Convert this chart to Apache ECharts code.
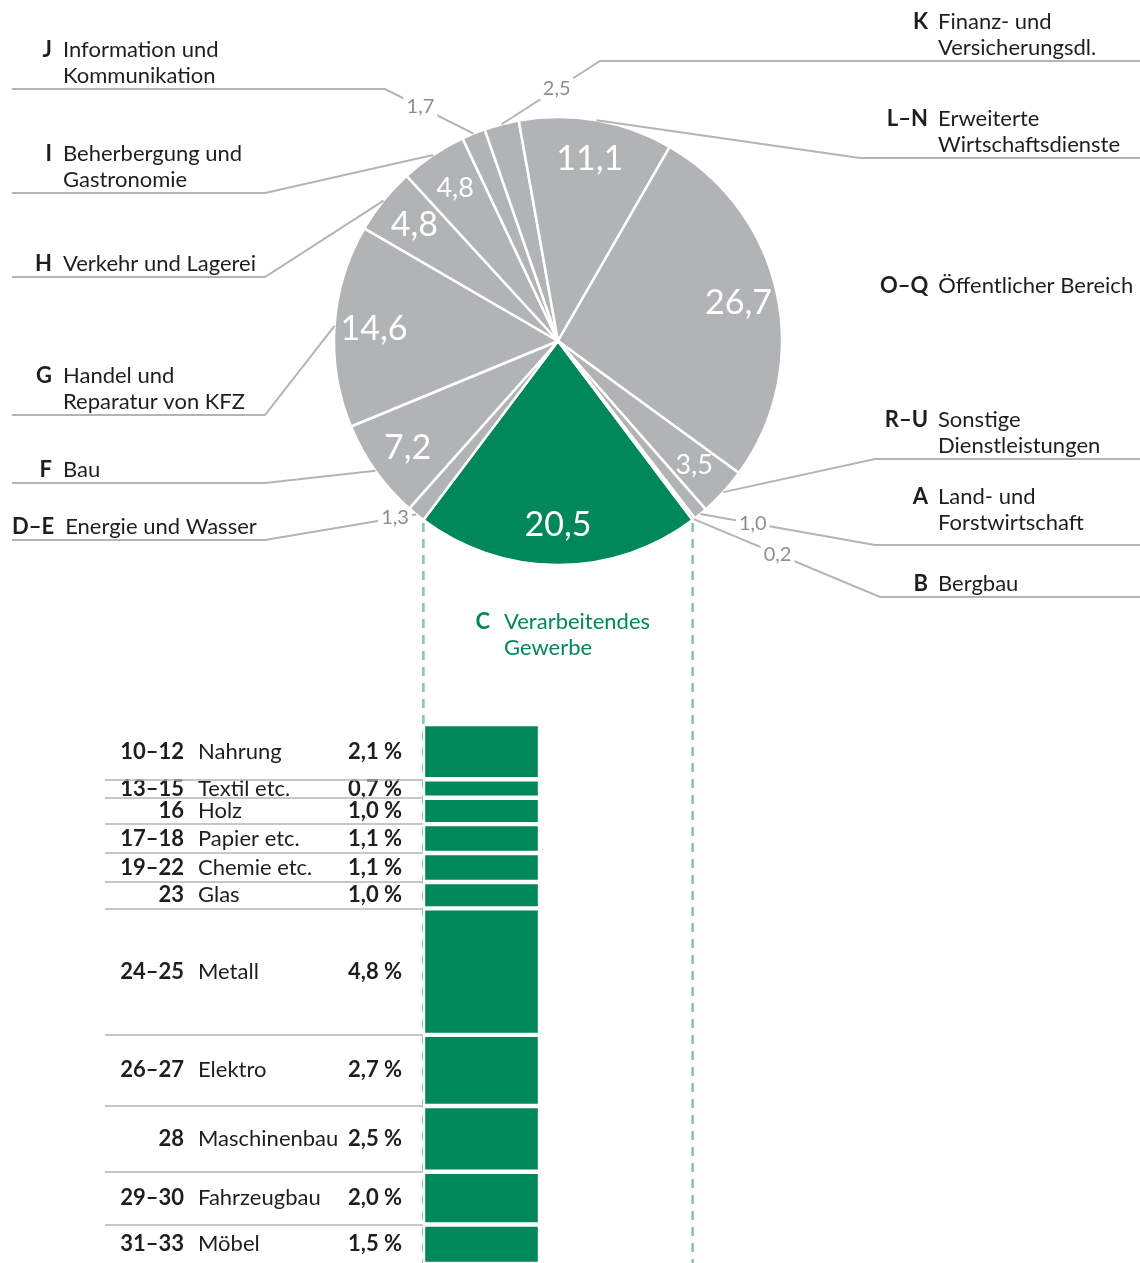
<!DOCTYPE html>
<html lang="de">
<head>
<meta charset="utf-8" />
<title>Wirtschaftsbereiche</title>
<style>
  html, body { margin: 0; padding: 0; background: #fff; }
  #chart { width: 1140px; height: 1263px; }
</style>
</head>
<body>
<div id="chart"></div>
<script src="https://cdn.jsdelivr.net/npm/echarts@6/dist/echarts.min.js"></script>
<script>
// Wirtschaftsbereiche, Anteile in %, im Uhrzeigersinn ab C
var categories = ['C', 'D–E', 'F', 'G', 'H', 'I', 'J', 'K', 'L–N', 'O–Q', 'R–U', 'A', 'B'];
var names = [
  'Verarbeitendes\nGewerbe', 'Energie und Wasser', 'Bau', 'Handel und\nReparatur von KFZ',
  'Verkehr und Lagerei', 'Beherbergung und\nGastronomie', 'Information und\nKommunikation',
  'Finanz- und\nVersicherungsdl.', 'Erweiterte\nWirtschaftsdienste', 'Öffentlicher Bereich',
  'Sonstige\nDienstleistungen', 'Land- und\nForstwirtschaft', 'Bergbau'
];
var shares = [20.5, 1.3, 7.2, 14.6, 4.8, 4.8, 1.7, 2.5, 11.1, 26.7, 3.5, 1.0, 0.2];

// Verarbeitendes Gewerbe, Unterteilung
var subCodes = ['10–12', '13–15', '16', '17–18', '19–22', '23', '24–25', '26–27', '28', '29–30', '31–33'];
var subNames = ['Nahrung', 'Textil etc.', 'Holz', 'Papier etc.', 'Chemie etc.', 'Glas', 'Metall', 'Elektro', 'Maschinenbau', 'Fahrzeugbau', 'Möbel'];
var subShares = [2.1, 0.7, 1.0, 1.1, 1.1, 1.0, 4.8, 2.7, 2.5, 2.0, 1.5];

// ---- Layout / Stil ----
var W = 1140, H = 1263;
var GREEN = '#00875a', GRAY = '#b2b3b5', LINE = '#b4b4b4', TEXT = '#1e1e1e', VALUE = '#8e8e8e';
var FONT = 'Lato', FS = 22;
var pieCenter = [558, 341], pieR = 224;
var leftEdge = 12, rightLabelX = 880;

// wo die Beschriftungen stehen (y = Linie unter dem Text)
var labelSpots = {
  'C':   { side: 'left', x: 450, y: 661, gap: 14 },
  'D–E': { side: 'left', y: 540, elbow: 265, valT: 0.14 },
  'F':   { side: 'left', y: 483, elbow: 265 },
  'G':   { side: 'left', y: 415, elbow: 265 },
  'H':   { side: 'left', y: 277, elbow: 265 },
  'I':   { side: 'left', y: 193, elbow: 265 },
  'J':   { side: 'left', y: 89, elbow: 385, valT: 0.6 },
  'K':   { side: 'right', y: 61, elbow: 600, valT: 0.56 },
  'L–N': { side: 'right', y: 158, elbow: 860 },
  'O–Q': { side: 'right', x: 880, y: 299 },
  'R–U': { side: 'right', y: 459, elbow: 875 },
  'A':   { side: 'right', y: 545, textY: 536, elbow: 875, valT: 0.3 },
  'B':   { side: 'right', y: 597, elbow: 880, valT: 0.45 }
};
var innerSize = { 'I': 27, 'R–U': 27 };

var measureCtx = document.createElement('canvas').getContext('2d');
function textWidth(str, weight) {
  measureCtx.font = weight + ' ' + FS + 'px ' + FONT;
  return measureCtx.measureText(str).width;
}
function tok(weight, color, extra) {
  var t = { fontFamily: FONT, fontSize: FS, fontWeight: weight, color: color, align: 'left', lineHeight: 26 };
  for (var k in extra) t[k] = extra[k];
  return t;
}
function fmt(v) { return v.toFixed(1).replace('.', ','); }

var total = shares.reduce(function (a, b) { return a + b; }, 0);
var startAngle = -90 + shares[0] / total * 180;
var half = shares[0] / total * Math.PI;
var cornerLeftX = pieCenter[0] - pieR * Math.sin(half);
var cornerRightX = pieCenter[0] + pieR * Math.sin(half);
var cornerY = pieCenter[1] + pieR * Math.cos(half);

// Rich-Styles fuer die Bereichsnamen
var nameRich = {};
categories.forEach(function (c, i) {
  var spot = labelSpots[c];
  var box = spot.side === 'left' ? 40 : 48;
  var gap = spot.gap != null ? spot.gap : (spot.side === 'left' ? 11 : 10);
  var color = i === 0 ? GREEN : TEXT;
  nameRich['c' + i] = tok('bold', color, { padding: [0, 0, 0, Math.max(0, box - textWidth(c, 'bold'))] });
  nameRich['n' + i] = tok('normal', color, { padding: [0, 0, 0, gap] });
  nameRich['m' + i] = tok('normal', color, { padding: [0, 0, 0, box + gap] });
});

function pie(extra) {
  var s = {
    type: 'pie', center: pieCenter, radius: pieR, startAngle: startAngle, clockwise: true,
    avoidLabelOverlap: false, silent: true, animation: false
  };
  for (var k in extra) s[k] = extra[k];
  return s;
}

var CLEAR = 'rgba(0,0,0,0)';

var piePlain = pie({
  z: 2,
  label: { show: false },
  labelLine: { show: false },
  itemStyle: { borderColor: '#fff', borderWidth: 2.5 },
  data: shares.map(function (v, i) {
    return { value: v, name: categories[i], itemStyle: { color: i === 0 ? GREEN : GRAY } };
  })
});

var pieInner = pie({
  z: 3,
  radius: [139, pieR],
  itemStyle: { color: CLEAR, borderWidth: 0 },
  label: {
    show: true, position: 'inside', color: '#fff', fontFamily: FONT, fontSize: 34,
    formatter: function (p) { return fmt(p.value); }
  },
  labelLine: { show: false },
  data: shares.map(function (v, i) {
    var c = categories[i];
    var inside = labelSpots[c].valT == null;
    var item = { value: v, name: c, label: { show: inside } };
    if (innerSize[c]) item.label.fontSize = innerSize[c];
    return item;
  })
});

var pieNames = pie({
  z: 4,
  itemStyle: { color: CLEAR, borderWidth: 0 },
  label: {
    show: true, position: 'outside', lineHeight: 26, rich: nameRich,
    formatter: function (p) {
      var i = p.dataIndex;
      var lines = names[i].split('\n');
      var s = '{c' + i + '|' + categories[i] + '}{n' + i + '|' + lines[0] + '}';
      for (var k = 1; k < lines.length; k++) s += '\n{m' + i + '|' + lines[k] + '}';
      return s;
    }
  },
  labelLine: { show: true, length: 10, length2: 10, lineStyle: { color: LINE, width: 2 } },
  labelLayout: function (p) {
    var spot = labelSpots[categories[p.dataIndex]];
    var x = spot.x != null ? spot.x : (spot.side === 'left' ? leftEdge : rightLabelX);
    var out = { x: x, y: spot.textY != null ? spot.textY : spot.y, align: 'left', verticalAlign: 'bottom' };
    if (spot.elbow != null && p.labelLinePoints) {
      var p0 = p.labelLinePoints[0];
      out.labelLinePoints = [
        [p0[0], p0[1]],
        [spot.elbow, spot.y],
        [spot.side === 'left' ? leftEdge : W, spot.y]
      ];
    }
    return out;
  },
  data: shares.map(function (v, i) {
    var c = categories[i];
    var item = { value: v, name: c };
    if (labelSpots[c].elbow == null) item.labelLine = { show: false };
    return item;
  })
});

var pieValues = pie({
  z: 5,
  itemStyle: { color: CLEAR, borderWidth: 0 },
  label: {
    show: true, position: 'outside', color: VALUE, fontFamily: FONT, fontSize: 20,
    backgroundColor: '#fff', padding: [1, 3],
    formatter: function (p) { return fmt(p.value); }
  },
  labelLine: { show: true, length: 10, length2: 10, lineStyle: { opacity: 0 } },
  labelLayout: function (p) {
    var spot = labelSpots[categories[p.dataIndex]];
    if (spot.valT == null || !p.labelLinePoints) return {};
    var p0 = p.labelLinePoints[0];
    return {
      x: p0[0] + (spot.elbow - p0[0]) * spot.valT,
      y: p0[1] + (spot.y - p0[1]) * spot.valT,
      align: 'center', verticalAlign: 'middle'
    };
  },
  data: shares.map(function (v, i) {
    return { value: v, name: categories[i], label: { show: labelSpots[categories[i]].valT != null } };
  })
});

// ---- gestapelter Balken ----
var barTop = 724, barHeight = 540;
var barLeft = Math.round(cornerLeftX), barW = 117;
var lineLeft = 105;
var pctRight = 401;

var barRich = {
  bn: tok('normal', TEXT, { width: 150, padding: [0, 0, 0, 14] }),
  bp: tok('bold', TEXT, { width: 53 })
};
subCodes.forEach(function (c, i) {
  barRich['b' + i] = tok('bold', TEXT, { padding: [0, 0, 0, Math.max(0, 79 - textWidth(c, 'bold'))] });
});

var barSeries = subShares.map(function (v, i) {
  return {
    type: 'bar', stack: 'c', xAxisIndex: 0, yAxisIndex: 0, barWidth: '100%', silent: true,
    data: [v],
    itemStyle: { color: GREEN, borderColor: '#fff', borderWidth: 2.2 },
    label: {
      show: true, position: 'left', distance: barLeft - pctRight, rich: barRich,
      formatter: function () {
        return '{b' + i + '|' + subCodes[i] + '}{bn|' + subNames[i] + '}{bp|' + fmt(v) + ' %}';
      }
    }
  };
});

var bounds = [];
var run = 0;
for (var i = 0; i < subShares.length - 1; i++) {
  run += subShares[i];
  bounds.push({ yAxis: run });
}
var subTotal = subShares.reduce(function (a, b) { return a + b; }, 0);

var sepSeries = {
  type: 'line', xAxisIndex: 1, yAxisIndex: 1, silent: true, data: [0],
  showSymbol: false, lineStyle: { opacity: 0 },
  markLine: {
    silent: true, symbol: ['none', 'none'], label: { show: false },
    lineStyle: { color: LINE, width: 1.5, type: 'solid' },
    data: bounds
  }
};

var chart = echarts.init(document.getElementById('chart'));
chart.setOption({
  animation: false,
  backgroundColor: '#fff',
  grid: [
    { left: barLeft, top: barTop, width: barW, height: barHeight, outerBoundsMode: 'none' },
    { left: lineLeft, top: barTop, width: barLeft - lineLeft, height: barHeight, outerBoundsMode: 'none' }
  ],
  xAxis: [
    { type: 'category', gridIndex: 0, data: ['C'], show: false },
    { type: 'category', gridIndex: 1, data: ['C'], show: false }
  ],
  yAxis: [
    { type: 'value', gridIndex: 0, inverse: true, min: 0, max: subTotal, show: false },
    { type: 'value', gridIndex: 1, inverse: true, min: 0, max: subTotal, show: false }
  ],
  graphic: [cornerLeftX, cornerRightX].map(function (x) {
    return {
      type: 'line', z: 0, silent: true,
      shape: { x1: x, y1: cornerY + 3, x2: x, y2: H },
      style: { stroke: '#7fc8a9', lineWidth: 2.5, lineDash: [9, 7] }
    };
  }),
  series: [piePlain, pieInner, pieNames, pieValues, sepSeries].concat(barSeries)
});
</script>
</body>
</html>
